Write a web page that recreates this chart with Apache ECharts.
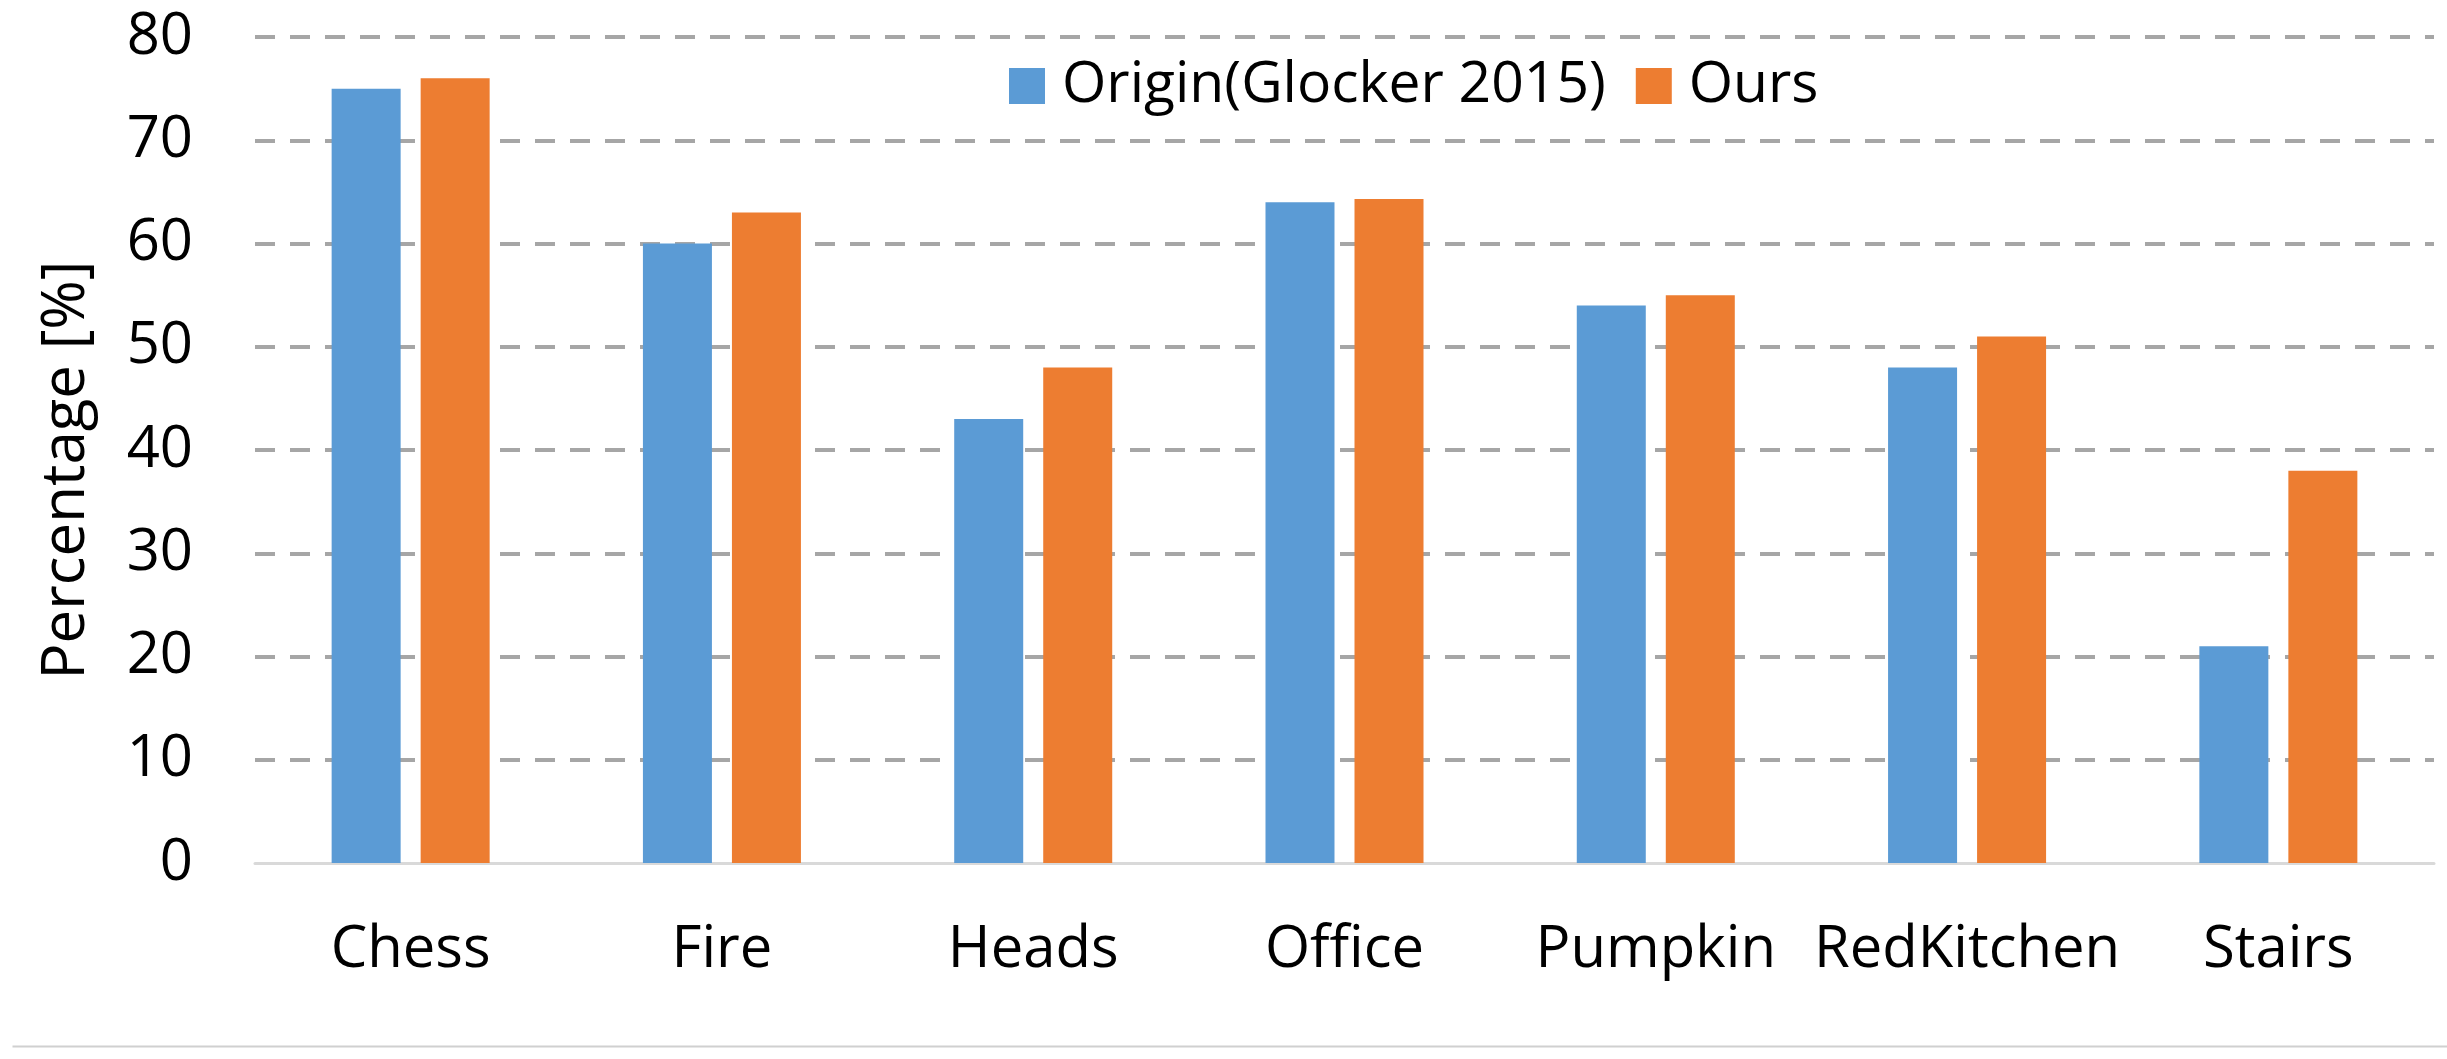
<!DOCTYPE html>
<html>
<head>
<meta charset="utf-8">
<script src="https://cdn.jsdelivr.net/npm/echarts@6/dist/echarts.min.js"></script>
<style>
html,body{margin:0;padding:0;background:#fff;}
#chart{width:2447px;height:1059px;}
</style>
</head>
<body>
<div id="chart"></div>
<script>
const categories = ['Chess','Fire','Heads','Office','Pumpkin','RedKitchen','Stairs'];
const originValues = [75, 60, 43, 64, 54, 48, 21];
const oursValues = [76, 63, 48, 64.3, 55, 51, 38];
const seriesNames = ['Origin(Glocker 2015)', 'Ours'];
const yTicks = {min: 0, max: 80, interval: 10};

const FONT = '"Open Sans", "Liberation Sans", sans-serif';
const chart = echarts.init(document.getElementById('chart'), null, {renderer: 'canvas'});
chart.setOption({
  backgroundColor: '#ffffff',
  animation: false,
  color: ['#5B9BD5', '#ED7D31'],
  grid: {left: 255, right: 13, top: 37, bottom: 196, containLabel: false},
  legend: {
    data: seriesNames,
    left: 1004,
    top: 51,
    icon: 'rect',
    itemWidth: 36,
    itemHeight: 36,
    itemGap: 30,
    textStyle: {fontFamily: FONT, fontSize: 57, color: '#000', lineHeight: 60, padding: [0, 0, 0, 12]}
  },
  xAxis: {
    type: 'category',
    data: categories,
    axisLine: {show: true, lineStyle: {color: '#d9d9d9', width: 3}},
    axisTick: {show: false},
    axisLabel: {fontFamily: FONT, fontSize: 58, color: '#000', margin: 58, interval: 0}
  },
  yAxis: {
    type: 'value',
    min: yTicks.min, max: yTicks.max, interval: yTicks.interval,
    name: 'Percentage [%]',
    nameLocation: 'middle',
    nameGap: 158,
    nameTextStyle: {fontFamily: FONT, fontSize: 60, color: '#000', padding: [0, 40, 0, 0]},
    axisLine: {show: false},
    axisTick: {show: false},
    axisLabel: {fontFamily: FONT, fontSize: 58, color: '#000', margin: 62},
    splitLine: {show: true, showMinLine: false, lineStyle: {color: '#a6a6a6', width: 4, type: [20, 15]}}
  },
  series: [
    {name: seriesNames[0], type: 'bar', data: originValues, barWidth: 69, barGap: '29%'},
    {name: seriesNames[1], type: 'bar', data: oursValues, barWidth: 69, barGap: '29%'}
  ],
  graphic: [{
    type: 'line', left: 10, top: 1044,
    shape: {x1: 0, y1: 0, x2: 2437, y2: 0},
    style: {stroke: '#d0d0d0', lineWidth: 2}
  }]
});
</script>
</body>
</html>
